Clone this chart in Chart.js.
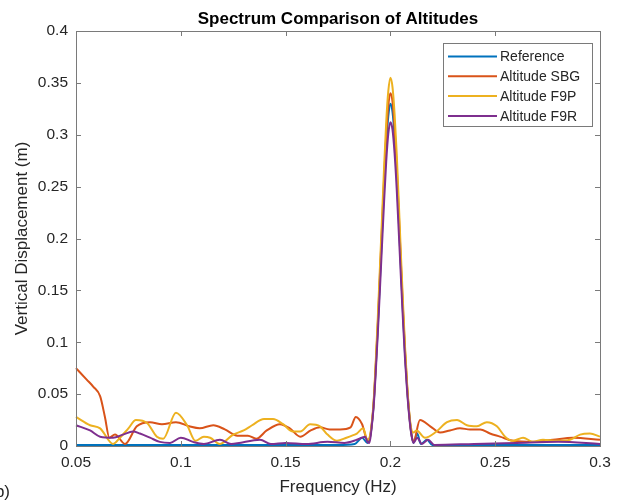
<!DOCTYPE html>
<html>
<head>
<meta charset="utf-8">
<script src="https://cdn.jsdelivr.net/npm/chart.js@4.4.0/dist/chart.umd.min.js"></script>
<style>
  html, body { margin: 0; padding: 0; background: #fff; }
  #wrap { width: 629px; height: 501px; }
</style>
</head>
<body>
<div id="wrap"><canvas id="chart" width="629" height="501"></canvas></div>
<script>
// ---------- data ----------
const xTicks = [0.05, 0.1, 0.15, 0.2, 0.25, 0.3];
const yTicks = [0, 0.05, 0.1, 0.15, 0.2, 0.25, 0.3, 0.35, 0.4];

const refFreq = [0.05, 0.1, 0.15, 0.175, 0.183, 0.1865,
  0.189, 0.19, 0.191, 0.192, 0.193, 0.194, 0.195, 0.196, 0.197, 0.198, 0.199, 0.2,
  0.201, 0.202, 0.203, 0.204, 0.205, 0.206, 0.207, 0.208, 0.209, 0.21, 0.211,
  0.2128, 0.2145, 0.2175, 0.22, 0.25, 0.3];
const refVals = [0.001, 0.001, 0.001, 0.001, 0.002, 0.008,
  0.003, 0.006, 0.018, 0.04, 0.075, 0.115, 0.16, 0.205, 0.25, 0.29, 0.318, 0.33,
  0.322, 0.298, 0.262, 0.218, 0.172, 0.128, 0.088, 0.055, 0.03, 0.012, 0.003,
  0.012, 0.002, 0.006, 0.001, 0.001, 0.001];

const sbgFreq = [0.05, 0.0551, 0.0583, 0.0615, 0.0638, 0.0659, 0.0686, 0.0734, 0.079, 0.0853, 0.091, 0.0977,
  0.104, 0.109, 0.1155, 0.121, 0.127, 0.132, 0.136, 0.141, 0.1473, 0.152, 0.157, 0.162, 0.1664, 0.171,
  0.176, 0.181, 0.1835, 0.1865,
  0.189, 0.19, 0.191, 0.192, 0.193, 0.194, 0.195, 0.196, 0.197, 0.198, 0.199, 0.2,
  0.201, 0.202, 0.203, 0.204, 0.205, 0.206, 0.207, 0.208, 0.209, 0.21, 0.211,
  0.2141, 0.219, 0.2237, 0.2284, 0.2332, 0.238, 0.2428, 0.2475, 0.2523, 0.2585, 0.268, 0.2776,
  0.2871, 0.3];
const sbgVals = [0.075, 0.064, 0.057, 0.048, 0.028, 0.008, 0.011, 0.002, 0.019, 0.023, 0.021, 0.023,
  0.019, 0.017, 0.02, 0.016, 0.01, 0.01, 0.007, 0.015, 0.021, 0.017, 0.009, 0.015, 0.018, 0.016,
  0.016, 0.018, 0.028, 0.021,
  0.006, 0.006, 0.019, 0.041, 0.077, 0.118, 0.165, 0.211, 0.258, 0.299, 0.328, 0.34,
  0.332, 0.307, 0.27, 0.225, 0.177, 0.132, 0.091, 0.057, 0.031, 0.012, 0.004,
  0.025, 0.019, 0.013, 0.015, 0.017, 0.016, 0.016, 0.012, 0.009, 0.005, 0.004, 0.006,
  0.008, 0.006];

const f9pFreq = [0.05, 0.0567, 0.0615, 0.0677, 0.071, 0.075, 0.0786, 0.084, 0.0886, 0.0916, 0.0977, 0.103,
  0.107, 0.111, 0.114, 0.1187, 0.125, 0.13, 0.134, 0.1397, 0.144, 0.1488, 0.1535, 0.157, 0.1617, 0.1664,
  0.17, 0.1745, 0.179, 0.1817, 0.184, 0.187,
  0.189, 0.19, 0.191, 0.192, 0.193, 0.194, 0.195, 0.196, 0.197, 0.198, 0.199, 0.2,
  0.201, 0.202, 0.203, 0.204, 0.205, 0.206, 0.207, 0.208, 0.209, 0.21, 0.211,
  0.2125, 0.2165, 0.222, 0.227, 0.2318, 0.2365, 0.2413, 0.246, 0.2508, 0.2547, 0.2585,
  0.2633, 0.268, 0.2728, 0.2795, 0.2857, 0.2905, 0.2952, 0.3];
const f9pVals = [0.028, 0.02, 0.017, 0.002, 0.008, 0.017, 0.025, 0.022, 0.009, 0.007, 0.032, 0.02,
  0.005, 0.009, 0.008, 0.002, 0.011, 0.015, 0.02, 0.026, 0.026, 0.021, 0.014, 0.014, 0.021, 0.019,
  0.011, 0.005, 0.008, 0.01, 0.012, 0.017,
  0.006, 0.008, 0.02, 0.043, 0.081, 0.124, 0.172, 0.22, 0.269, 0.312, 0.342, 0.355,
  0.346, 0.32, 0.282, 0.235, 0.185, 0.138, 0.095, 0.059, 0.032, 0.016, 0.013,
  0.015, 0.008, 0.014, 0.023, 0.025, 0.02, 0.019, 0.023, 0.019, 0.009, 0.005,
  0.008, 0.004, 0.006, 0.005, 0.006, 0.011, 0.012, 0.009];

const f9rFreq = [0.05, 0.0567, 0.0615, 0.0677, 0.0724, 0.0772, 0.0805, 0.0853, 0.09, 0.0949, 0.1, 0.1058,
  0.111, 0.1187, 0.124, 0.1378, 0.143, 0.15, 0.16, 0.17, 0.178, 0.184, 0.188,
  0.189, 0.19, 0.191, 0.192, 0.193, 0.194, 0.195, 0.196, 0.197, 0.198, 0.199, 0.2,
  0.201, 0.202, 0.203, 0.204, 0.205, 0.206, 0.207, 0.208, 0.209, 0.21, 0.211,
  0.2128, 0.215, 0.218, 0.221, 0.24, 0.26, 0.28, 0.3];
const f9rVals = [0.02, 0.015, 0.009, 0.008, 0.011, 0.014, 0.012, 0.008, 0.004, 0.003, 0.008, 0.004,
  0.002, 0.006, 0.002, 0.006, 0.002, 0.003, 0.002, 0.004, 0.003, 0.006, 0.009,
  0.004, 0.003, 0.017, 0.038, 0.071, 0.109, 0.151, 0.194, 0.236, 0.274, 0.301, 0.312,
  0.305, 0.282, 0.248, 0.206, 0.163, 0.121, 0.083, 0.052, 0.028, 0.011, 0.003,
  0.008, 0.002, 0.006, 0.001, 0.002, 0.003, 0.004, 0.002];

const seriesNames = ["Reference", "Altitude SBG", "Altitude F9P", "Altitude F9R"];
const seriesColors = ["#0072BD", "#D95319", "#EDB120", "#7E2F8E"];

const TEXT = "#262626";
const AXIS = "#7a7a7a";
const FONT = "'Liberation Sans', Arial, sans-serif";

const pts = (xs, ys) => xs.map((x, i) => ({ x, y: ys[i] }));
const fmt = v => String(+Number(v).toFixed(2));

const series = [pts(refFreq, refVals), pts(sbgFreq, sbgVals), pts(f9pFreq, f9pVals), pts(f9rFreq, f9rVals)];

// MATLAB-ish box, inward ticks, title and legend
const matlabAxes = {
  id: "matlabAxes",
  afterDraw(chart) {
    const { ctx, chartArea: a, scales } = chart;
    const xs = scales.x, ys = scales.y;
    ctx.save();
    ctx.strokeStyle = AXIS;
    ctx.lineWidth = 1;
    ctx.strokeRect(Math.round(a.left) + 0.5, Math.round(a.top) + 0.5,
      Math.round(a.right - a.left), Math.round(a.bottom - a.top));

    const tl = 5;
    ctx.beginPath();
    xTicks.forEach(v => {
      const px = Math.round(xs.getPixelForValue(v)) + 0.5;
      ctx.moveTo(px, a.bottom); ctx.lineTo(px, a.bottom - tl);
      ctx.moveTo(px, a.top); ctx.lineTo(px, a.top + tl);
    });
    yTicks.forEach(v => {
      const py = Math.round(ys.getPixelForValue(v)) + 0.5;
      ctx.moveTo(a.left, py); ctx.lineTo(a.left + tl, py);
      ctx.moveTo(a.right, py); ctx.lineTo(a.right - tl, py);
    });
    ctx.stroke();

    // title
    ctx.fillStyle = "#000";
    ctx.font = "bold 17px " + FONT;
    ctx.textAlign = "center";
    ctx.textBaseline = "middle";
    ctx.fillText("Spectrum Comparison of Altitudes", (a.left + a.right) / 2, 19);

    // cut-off panel tag
    ctx.fillStyle = TEXT;
    ctx.font = "17px " + FONT;
    ctx.textAlign = "right";
    ctx.textBaseline = "alphabetic";
    ctx.fillText("(b)", 10, 497);

    // legend
    const lx = 443, ly = 43, lw = 149, lh = 83;
    ctx.fillStyle = "#fff";
    ctx.fillRect(lx, ly, lw, lh);
    ctx.strokeStyle = AXIS;
    ctx.strokeRect(lx + 0.5, ly + 0.5, lw, lh);
    ctx.font = "14px " + FONT;
    ctx.textAlign = "left";
    ctx.textBaseline = "middle";
    chart.data.datasets.forEach((ds, i) => {
      const y = ly + 13.5 + i * 19.8;
      ctx.strokeStyle = ds.borderColor;
      ctx.lineWidth = 2;
      ctx.beginPath();
      ctx.moveTo(lx + 5, y); ctx.lineTo(lx + 54, y);
      ctx.stroke();
      ctx.fillStyle = TEXT;
      ctx.fillText(ds.label, lx + 57, y + 1);
    });
    ctx.restore();
  }
};

new Chart(document.getElementById("chart"), {
  type: "line",
  data: {
    datasets: series.map((d, i) => ({
      label: seriesNames[i],
      data: d,
      borderColor: seriesColors[i],
      backgroundColor: seriesColors[i],
      borderWidth: 2,
      pointRadius: 0,
      cubicInterpolationMode: "monotone",
      fill: false,
      clip: false,
      order: 4 - i
    }))
  },
  options: {
    responsive: false,
    devicePixelRatio: 1,
    animation: false,
    events: [],
    layout: { padding: { top: 31, right: 29, left: 0, bottom: 0 } },
    plugins: { legend: { display: false }, title: { display: false }, tooltip: { enabled: false } },
    scales: {
      x: {
        type: "linear",
        min: 0.05, max: 0.3,
        afterBuildTicks: s => { s.ticks = xTicks.map(v => ({ value: v })); },
        afterFit: s => { s.height = 55; },
        grid: { display: false, drawTicks: false },
        border: { display: false },
        ticks: { color: TEXT, font: { family: FONT, size: 15.5 }, padding: 7, maxRotation: 0, callback: fmt },
        title: { display: true, text: "Frequency (Hz)", color: TEXT, font: { family: FONT, size: 17 }, padding: { top: 0, bottom: 3 } }
      },
      y: {
        min: 0, max: 0.4,
        afterBuildTicks: s => { s.ticks = yTicks.map(v => ({ value: v })); },
        afterFit: s => { s.width = 76; },
        grid: { display: false, drawTicks: false },
        border: { display: false },
        ticks: { color: TEXT, font: { family: FONT, size: 15.5 }, padding: 8, callback: fmt },
        title: { display: true, text: "Vertical Displacement (m)", color: TEXT, font: { family: FONT, size: 17 }, padding: { top: 12, bottom: 0 } }
      }
    }
  },
  plugins: [matlabAxes]
});
</script>
</body>
</html>
